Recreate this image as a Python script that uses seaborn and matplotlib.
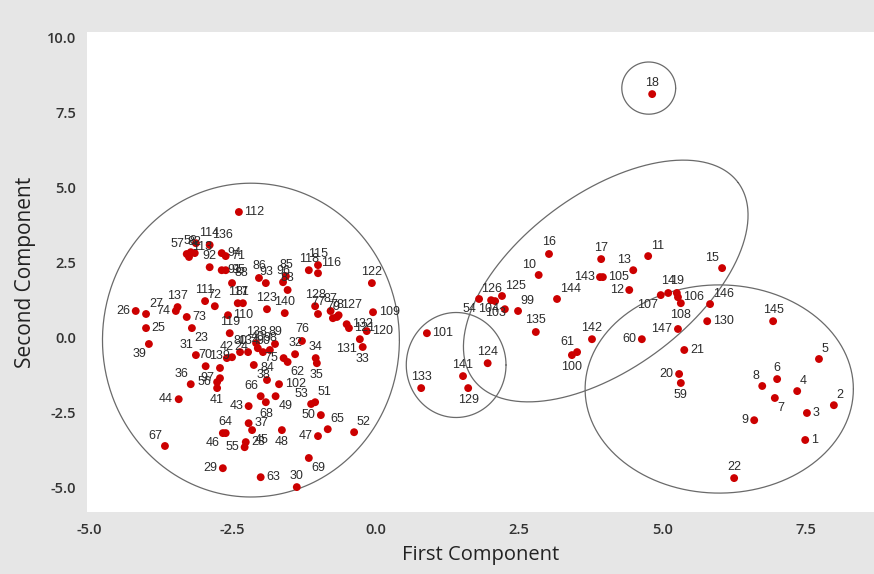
import numpy as np
import pandas as pd
import matplotlib
matplotlib.use("Agg")
import matplotlib.pyplot as plt
import seaborn as sns
from matplotlib import font_manager as fm

# ---------------- data ----------------
obs_id = list(range(1, 148))
first_component = [
    7.49, 7.99, 7.52, 7.35, 7.73, 7.00, 6.96, 6.74, 6.60, 2.84,
    4.75, 4.42, 4.49, 5.10, 6.04, 3.02, 3.93, 4.82, 5.25, 5.29,
    5.38, 6.25, -3.21, -2.51, -4.01, -4.19, -4.01, -2.27, -2.67, -1.38,
    -3.14, -1.41, -0.23, -1.05, -1.03, -3.23, -2.22, -2.13, -3.96, -2.06,
    -2.77, -2.60, -2.22, -3.44, -2.16, -2.67, -1.01, -1.64, -1.75, -0.96,
    -1.06, -0.38, -1.13, 1.80, -2.29, -2.77, -3.30, -3.23, 5.32, 4.64,
    3.51, -1.54, -2.01, -2.62, -0.84, -2.01, -3.68, -1.92, -1.17, -2.97,
    -2.62, -2.81, -3.30, -3.49, -1.61, -1.29, -1.01, -0.68, -0.75, -2.37,
    -2.32, -3.16, -1.54, -1.90, -1.57, -2.04, -0.79, -2.51, -1.76, -1.97,
    -2.69, -2.90, -1.92, -2.69, -2.62, -1.62, -2.72, -1.85, 2.48, 3.42,
    0.89, -1.69, 2.08, 2.25, 3.96, 5.27, 4.97, 5.32, -0.05, -2.58,
    -2.98, -2.39, -3.26, -3.14, -1.01, -1.01, -2.41, -1.17, -2.55, -0.16,
    -0.47, -0.07, -1.90, 1.95, 2.20, 2.01, -0.65, -1.06, 1.61, 5.78,
    -0.28, -0.51, 0.79, -2.23, 2.79, -2.90, -3.46, -2.09, -2.72, -1.59,
    1.52, 3.77, 3.91, 3.16, 6.93, 5.83, 5.27,
]
second_component = [
    -3.43, -2.27, -2.53, -1.80, -0.73, -1.40, -2.03, -1.63, -2.77, 2.07,
    2.70, 1.57, 2.23, 1.47, 2.30, 2.77, 2.60, 8.10, 1.47, -1.23,
    -0.43, -4.70, 0.30, -0.67, 0.30, 0.87, 0.77, -3.50, -4.37, -5.00,
    -0.60, -0.57, -0.33, -0.70, -0.87, -1.57, -2.87, -0.93, -0.23, -0.37,
    -1.70, -0.70, -2.30, -2.07, -3.10, -3.20, -3.30, -3.10, -1.97, -2.60,
    -2.17, -3.17, -2.23, 1.27, -3.67, -1.50, 2.77, 2.83, -1.53, -0.07,
    -0.50, -0.83, -4.67, -3.20, -3.07, -1.97, -3.63, -2.17, -4.03, -0.97,
    2.70, 1.03, 0.67, 0.87, -0.70, -0.13, 0.77, 0.67, 0.63, -0.50,
    1.13, 2.80, 1.57, -1.43, 2.03, 1.97, 0.87, 1.80, -0.23, -0.50,
    2.23, 2.33, 1.80, 2.80, 2.23, 1.83, -1.37, -0.43, 0.87, -0.60,
    0.13, -1.57, 1.20, 0.93, 2.00, 1.33, 1.40, 1.13, 0.83, 0.73,
    1.20, 4.17, 2.67, 3.13, 2.40, 2.13, 1.13, 2.23, 0.13, 0.20,
    0.30, 1.80, 0.93, -0.87, 1.37, 1.23, 0.73, 1.03, -1.70, 0.53,
    -0.07, 0.43, -1.70, -0.50, 0.17, 3.07, 1.00, -0.20, -1.03, 0.80,
    -1.30, -0.07, 2.00, 1.27, 0.53, 1.10, 0.27,
]

x_ticks = [-5.0, -2.5, 0.0, 2.5, 5.0, 7.5]
y_ticks = [-5.0, -2.5, 0.0, 2.5, 5.0, 7.5, 10.0]
x_title = "First Component"
y_title = "Second Component"

# group outlines: centre and two conjugate semi-axis vectors (data units)
group_cx = [-2.18, 1.40, 4.01, 5.99, 4.76]
group_cy = [-0.10, -0.93, 1.87, -1.73, 8.30]
group_ux = [2.59, 0.87, 2.31, 2.34, 0.47]
group_uy = [0.00, 0.00, 3.28, 0.00, 0.00]
group_vx = [0.00, 0.00, 0.91, 0.00, 0.00]
group_vy = [5.23, 1.75, -2.34, 3.47, 0.87]

# label placement relative to each point
label_side = {
    1: 'r', 2: 'ar', 3: 'r', 4: 'ar', 5: 'ar', 6: 'a', 7: 'br', 8: 'al', 9: 'l',
    20: 'l', 59: 'b', 21: 'r', 22: 'a', 145: 'a', 11: 'ar', 13: 'al', 105: 'r',
    143: 'l', 17: 'a', 12: 'l', 15: 'al', 14: 'a', 107: 'bl', 19: 'a', 106: 'r',
    108: 'b', 146: 'ar', 130: 'r', 147: 'l', 60: 'l', 16: 'a', 10: 'al', 144: 'ar',
    126: 'a', 125: 'ar', 54: 'bl', 104: 'l', 103: 'b', 99: 'ar', 135: 'a', 142: 'a',
    61: 'al', 100: 'b', 101: 'r', 124: 'a', 141: 'a', 129: 'b', 133: 'a', 18: 'a',
    112: 'r', 57: 'al', 58: 'a', 82: 'a', 113: 'ar', 114: 'ar', 136: 'ar', 92: 'a',
    94: 'r', 71: 'r', 91: 'r', 95: 'r', 88: 'ar', 86: 'a', 93: 'a', 96: 'a', 85: 'a',
    83: 'a', 118: 'a', 115: 'a', 116: 'ar', 122: 'a', 111: 'a', 72: 'a', 117: 'a',
    81: 'a', 128: 'a', 77: 'a', 87: 'a', 79: 'a', 78: 'a', 127: 'ar', 132: 'r',
    121: 'r', 109: 'r', 120: 'r', 131: 'bl', 33: 'b', 123: 'a', 140: 'a', 110: 'r',
    119: 'a', 42: 'a', 24: 'ar', 26: 'l', 27: 'ar', 25: 'r', 39: 'bl', 137: 'a',
    74: 'l', 73: 'r', 23: 'br', 31: 'al', 70: 'a', 139: 'a', 134: 'a', 138: 'a',
    40: 'a', 90: 'a', 98: 'a', 80: 'a', 89: 'a', 76: 'a', 32: 'a', 75: 'l', 62: 'br',
    34: 'a', 35: 'b', 38: 'br', 102: 'r', 84: 'a', 36: 'al', 44: 'l', 97: 'l',
    56: 'l', 41: 'b', 66: 'al', 68: 'b', 49: 'br', 43: 'l', 37: 'r', 45: 'br',
    48: 'b', 28: 'r', 55: 'l', 64: 'a', 46: 'bl', 29: 'l', 63: 'r', 67: 'al',
    53: 'al', 51: 'ar', 50: 'l', 65: 'ar', 52: 'ar', 47: 'l', 69: 'br', 30: 'a',
}

# ---------------- style ----------------
sns.set_theme(style="white")
installed = {f.name for f in fm.fontManager.ttflist}


def pick(*cands):
    for c in cands:
        if c in installed:
            return c
    return "DejaVu Sans"


axis_font = pick("Open Sans", "Noto Sans", "DejaVu Sans")
point_font = pick("Liberation Sans", "Arial", "DejaVu Sans")
plt.rcParams["font.family"] = [axis_font, "DejaVu Sans"]

W, H = 874, 574
fig = plt.figure(figsize=(W / 100, H / 100), dpi=100, facecolor="#e6e6e6")
ax = fig.add_axes([87 / W, 1 - 512 / H, 1 - 87 / W, (512 - 32) / H])
ax.set_facecolor("white")

df = pd.DataFrame({"id": obs_id, "First": first_component, "Second": second_component})

# outlines
t = np.linspace(0, 2 * np.pi, 400)
for cx, cy, ux, uy, vx, vy in zip(group_cx, group_cy, group_ux, group_uy, group_vx, group_vy):
    ax.plot(cx + ux * np.cos(t) + vx * np.sin(t),
            cy + uy * np.cos(t) + vy * np.sin(t),
            color="#6a6a6a", lw=0.9, zorder=1)

sns.scatterplot(data=df, x="First", y="Second", color="#cc0000", s=32,
                edgecolor="none", linewidth=0, ax=ax, legend=False, zorder=3)

offsets = {
    'r': ((4, 0), 'left', 'center'),
    'l': ((-4, 0), 'right', 'center'),
    'a': ((0, 4), 'center', 'bottom'),
    'b': ((0, -4), 'center', 'top'),
    'ar': ((2, 3), 'left', 'bottom'),
    'al': ((-2, 3), 'right', 'bottom'),
    'br': ((2, -3), 'left', 'top'),
    'bl': ((-2, -3), 'right', 'top'),
}
for i, xv, yv in zip(df["id"], df["First"], df["Second"]):
    (dx, dy), ha, va = offsets[label_side.get(i, 'ar')]
    ax.annotate(str(i), (xv, yv), xytext=(dx, dy), textcoords="offset points",
                ha=ha, va=va, fontsize=9, color="#2b2b2b",
                family=[point_font, "DejaVu Sans"], zorder=4)

ax.set_xlim(-5.04, 8.69)
ax.set_ylim(-5.83, 10.17)
ax.set_xticks(x_ticks)
ax.set_xticklabels([f"{v:.1f}" for v in x_ticks])
ax.set_yticks(y_ticks)
ax.set_yticklabels([f"{v:.1f}" for v in y_ticks])
for s in ax.spines.values():
    s.set_visible(False)
ax.tick_params(axis="both", which="major", length=3, width=0.6, color="#c8c8c8",
               labelsize=10.5, labelcolor="#333333", pad=5)
for lab in ax.get_xticklabels() + ax.get_yticklabels():
    lab.set_fontweight("semibold")
ax.set_xlabel(x_title, fontsize=14.5, color="#222222", labelpad=6)
ax.set_ylabel(y_title, fontsize=15, color="#222222", labelpad=8)
ax.grid(False)

fig.savefig("out.png", dpi=100, facecolor=fig.get_facecolor())
